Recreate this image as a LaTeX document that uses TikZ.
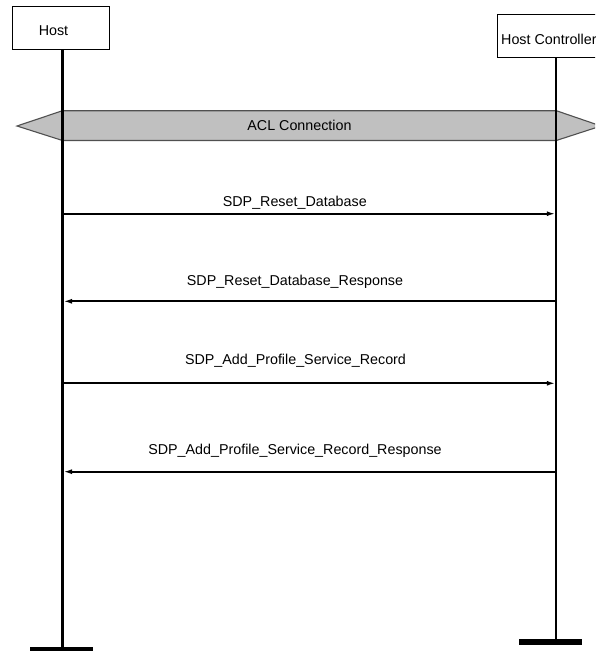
\documentclass[tikz,border=0pt]{standalone}
\usepackage{fontspec}
\setmainfont{Liberation Sans}
\usetikzlibrary{arrows.meta}
\definecolor{bandfill}{HTML}{C0C0C0}
\definecolor{bandline}{HTML}{505050}
\tikzset{
  objbox/.style={draw=black, line width=1pt, fill=white, inner sep=0pt},
  txt/.style={inner sep=0pt, font=\fontsize{14.3}{16}\selectfont},
  life/.style={line width=2.2pt, black},
  endbar/.style={line width=6pt, black},
  msg/.style={line width=2pt, -{Latex[length=8.5pt,width=5pt]}},
  band/.style={fill=bandfill, draw=bandline, line width=1.1pt}
}
\begin{document}
\begin{tikzpicture}[x=1pt,y=-1pt]
\useasboundingbox (0,0) rectangle (595,651);
\clip (0,0) rectangle (595,651);
% ACL band
\path[band] (17,126) -- (62.5,110.7) -- (556.3,110.7) -- (601,126) -- (556.3,140.5) -- (62.5,140.5) -- cycle;
\node[txt, anchor=base] (acl) at (299.5,130) {ACL Connection};
% object boxes
\node[objbox, minimum width=97.6pt, minimum height=43.3pt, anchor=north west] (host) at (11.7,6) {};
\node[txt, anchor=base west] (hostlbl) at (38.6,35.7) {Host};
\node[objbox, minimum width=118pt, minimum height=43.3pt, anchor=north west] (hc) at (497.3,14) {};
\node[txt, anchor=base west] (hclbl) at (501,44.3) {Host Controller};
% lifeline ends
\coordinate (hostend) at (62.5,650);
\coordinate (hcend) at (556.3,642.3);
\draw[life] (62.5,49.3) -- (hostend);
\draw[life] (556.3,57.3) -- (hcend);
\draw[endbar] (30,650) -- (93,650);
\draw[endbar] (519,642.3) -- (582,642.3);
% message endpoints
\coordinate (h1) at (63.5,213.7); \coordinate (c1) at (555.3,213.7);
\coordinate (h2) at (63.5,301.3); \coordinate (c2) at (555.3,301.3);
\coordinate (h3) at (63.5,383.3); \coordinate (c3) at (555.3,383.3);
\coordinate (h4) at (63.5,471.7); \coordinate (c4) at (555.3,471.7);
\draw[msg] (h1) -- (c1);
\draw[msg] (c2) -- (h2);
\draw[msg] (h3) -- (c3);
\draw[msg] (c4) -- (h4);
\node[txt, anchor=base] (m1) at (294.8,206.7) {SDP\_Reset\_Database};
\node[txt, anchor=base] (m2) at (295,285) {SDP\_Reset\_Database\_Response};
\node[txt, anchor=base] (m3) at (295.5,364) {SDP\_Add\_Profile\_Service\_Record};
\node[txt, anchor=base] (m4) at (295,454) {SDP\_Add\_Profile\_Service\_Record\_Response};
\end{tikzpicture}
\end{document}
